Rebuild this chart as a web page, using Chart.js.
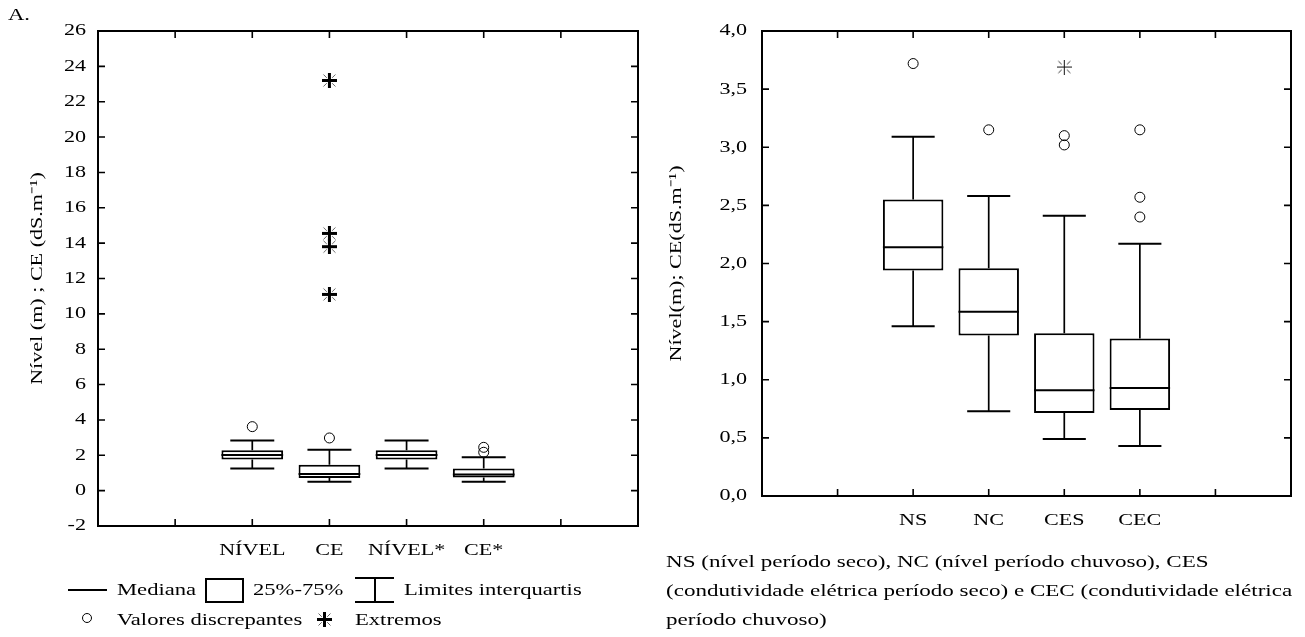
<!DOCTYPE html>
<html>
<head>
<meta charset="utf-8">
<script src="https://cdn.jsdelivr.net/npm/chart.js@4/dist/chart.umd.min.js"></script>
<style>
html,body{margin:0;padding:0;background:#fff;}
body{width:1305px;height:637px;position:relative;overflow:hidden;font-family:"Liberation Serif","Times New Roman",serif;color:#000;}
#wl{position:absolute;left:0;top:0;width:652px;height:637px;}
#wr{position:absolute;left:652px;top:0;width:653px;height:637px;}
.t{position:absolute;white-space:nowrap;font-size:17px;line-height:20px;transform-origin:0 50%;transform:scaleX(1.33);}
.c{transform:scaleX(1.355);}
.s{position:absolute;box-sizing:border-box;}
</style>
</head>
<body>
<div id="wl"><canvas id="cl"></canvas></div>
<div id="wr"><canvas id="cr"></canvas></div>

<div class="t" style="left:8px;top:5px;">A.</div>

<!-- left legend -->
<div class="s" style="left:68px;top:589px;width:39px;height:2px;background:#000;"></div>
<div class="t" style="left:117px;top:580px;">Mediana</div>
<div class="s" style="left:205px;top:578px;width:39px;height:25px;border:2px solid #000;"></div>
<div class="t" style="left:253px;top:580px;">25%-75%</div>
<div class="s" style="left:355px;top:577px;width:39px;height:2px;background:#000;"></div>
<div class="s" style="left:373.5px;top:578px;width:2px;height:24px;background:#000;"></div>
<div class="s" style="left:355px;top:601px;width:39px;height:2px;background:#000;"></div>
<div class="t" style="left:404px;top:580px;">Limites interquartis</div>
<div class="s" style="left:82px;top:613px;width:10px;height:10px;border:1px solid #000;border-radius:50%;"></div>
<div class="t" style="left:117px;top:610px;">Valores discrepantes</div>
<canvas id="legAst" class="s" width="15" height="15" style="left:317px;top:612px;"></canvas>
<div class="t" style="left:355px;top:610px;">Extremos</div>

<!-- right caption -->
<div class="t c" style="left:666px;top:552px;">NS (nível período seco), NC (nível período chuvoso), CES</div>
<div class="t c" style="left:666px;top:581px;">(condutividade elétrica período seco) e CEC (condutividade elétrica</div>
<div class="t c" style="left:666px;top:610px;">período chuvoso)</div>

<script>
// ---------------- DATA ----------------
const leftCategories = ['NÍVEL', 'CE', 'NÍVEL*', 'CE*'];
const leftMin    = [1.25, 0.51, 1.25, 0.51];
const leftQ1     = [1.76, 0.72, 1.76, 0.75];
const leftMedian = [2.02, 0.94, 2.02, 0.91];
const leftQ3     = [2.28, 1.47, 2.28, 1.25];
const leftMax    = [2.83, 2.32, 2.83, 1.89];
const leftOutlierCats   = ['NÍVEL', 'CE', 'CE*', 'CE*'];
const leftOutlierValues = [3.62, 2.98, 2.45, 2.17];
const leftExtremeCats   = ['CE', 'CE', 'CE', 'CE'];
const leftExtremeValues = [23.2, 14.55, 13.8, 11.1];
const leftYTicks = {min: -2, max: 26, step: 2};

const rightCategories = ['NS', 'NC', 'CES', 'CEC'];
const rightMin    = [1.46, 0.73, 0.49, 0.43];
const rightQ1     = [1.94, 1.38, 0.715, 0.74];
const rightMedian = [2.14, 1.585, 0.91, 0.93];
const rightQ3     = [2.55, 1.96, 1.40, 1.355];
const rightMax    = [3.09, 2.58, 2.41, 2.17];
const rightOutlierCats   = ['NS', 'NC', 'CES', 'CES', 'CEC', 'CEC', 'CEC'];
const rightOutlierValues = [3.72, 3.15, 3.10, 3.02, 3.15, 2.57, 2.40];
const rightExtremeCats   = ['CES'];
const rightExtremeValues = [3.69];
const rightYTicks = {min: 0, max: 4, step: 0.5};

// ---------------- STYLE / DRAWING ----------------
Chart.defaults.font.family = '"Liberation Serif", "Times New Roman", serif';
Chart.defaults.font.size = 17;
Chart.defaults.color = '#000';
Chart.defaults.animation = false;

const TEXT_STRETCH = 1.3;

function makeAsterisk(canvas, size, plusW, plusColor, diagW, diagColor) {
  const c = canvas || document.createElement('canvas');
  c.width = size; c.height = size;
  const g = c.getContext('2d');
  const h = size / 2, d = size * 0.22;
  g.lineCap = 'butt';
  g.strokeStyle = diagColor; g.lineWidth = diagW;
  [[0,0,1,1],[size,0,-1,1],[0,size,1,-1],[size,size,-1,-1]].forEach(([x,y,sx,sy]) => {
    g.beginPath(); g.moveTo(x + sx * 1.5, y + sy * 1.5); g.lineTo(x + sx * (1.5 + d), y + sy * (1.5 + d)); g.stroke();
  });
  g.strokeStyle = plusColor; g.lineWidth = plusW;
  g.beginPath(); g.moveTo(h, 0); g.lineTo(h, size); g.moveTo(0, h); g.lineTo(size, h); g.stroke();
  return c;
}
const boldAsterisk = makeAsterisk(null, 15, 3, '#000', 1, '#666');
const thinAsterisk = makeAsterisk(null, 15, 1, '#111', 1, '#333');
makeAsterisk(document.getElementById('legAst'), 15, 3, '#000', 1, '#666');

function buildChart(canvasId, d) {
  const labels = ['', '', ...d.categories, '', ''];
  const boxData = d.categories.map((c, i) => ({x: c, y: [d.q1[i], d.q3[i]]}));
  const outData = d.outCats.map((c, i) => ({x: c, y: d.outVals[i]}));
  const extData = d.extCats.map((c, i) => ({x: c, y: d.extVals[i]}));

  // horizontally widened text, as in the reference figure
  const stretchPlugin = {
    id: 'stretch',
    afterInit(chart) {
      const ctx = chart.ctx;
      if (ctx.__stretched) return;
      const orig = ctx.fillText;
      ctx.fillText = function (text, x, y, maxWidth) {
        this.save();
        this.translate(x, y);
        this.scale(TEXT_STRETCH, 1);
        if (maxWidth === undefined || maxWidth === null) orig.call(this, text, 0, 0);
        else orig.call(this, text, 0, 0, maxWidth / TEXT_STRETCH);
        this.restore();
      };
      ctx.__stretched = true;
    }
  };
  const boxPlugin = {
    id: 'boxparts',
    beforeDatasetsDraw(chart) {
      const {ctx, scales: {x, y}} = chart;
      const step = x.getPixelForTick(1) - x.getPixelForTick(0);
      const cap = step * 0.57 / 2;
      const meta = chart.getDatasetMeta(0);
      ctx.save();
      ctx.strokeStyle = '#000';
      d.categories.forEach((c, i) => {
        const px = meta.data[i].x;
        const yq1 = y.getPixelForValue(d.q1[i]), yq3 = y.getPixelForValue(d.q3[i]);
        const ymin = y.getPixelForValue(d.min[i]), ymax = y.getPixelForValue(d.max[i]);
        ctx.lineWidth = 1.7;
        ctx.beginPath();
        ctx.moveTo(px, yq3); ctx.lineTo(px, ymax);
        ctx.moveTo(px, yq1); ctx.lineTo(px, ymin);
        ctx.stroke();
        ctx.lineWidth = 2;
        ctx.beginPath();
        ctx.moveTo(px - cap, ymax); ctx.lineTo(px + cap, ymax);
        ctx.moveTo(px - cap, ymin); ctx.lineTo(px + cap, ymin);
        ctx.stroke();
      });
      ctx.restore();
    },
    afterDatasetDraw(chart, args) {
      if (args.index !== 0) return;
      const {ctx, scales: {y}} = chart;
      const meta = chart.getDatasetMeta(0);
      ctx.save();
      ctx.strokeStyle = '#000';
      ctx.lineWidth = 2;
      d.categories.forEach((c, i) => {
        const bar = meta.data[i];
        const ym = y.getPixelForValue(d.median[i]);
        ctx.beginPath();
        ctx.moveTo(bar.x - bar.width / 2, ym); ctx.lineTo(bar.x + bar.width / 2, ym);
        ctx.stroke();
      });
      ctx.restore();
    }
  };
  const framePlugin = {
    id: 'frame',
    afterDraw(chart) {
      const {ctx, chartArea: a, scales: {x, y}} = chart;
      ctx.save();
      ctx.strokeStyle = '#000';
      ctx.lineWidth = 1.6;
      const tl = 7;
      ctx.beginPath();
      for (let i = 1; i < labels.length - 1; i++) {
        const px = x.getPixelForTick(i);
        ctx.moveTo(px, a.bottom); ctx.lineTo(px, a.bottom - tl);
        ctx.moveTo(px, a.top); ctx.lineTo(px, a.top + tl);
      }
      y.ticks.forEach((t, i) => {
        if (i === 0 || i === y.ticks.length - 1) return;
        const py = y.getPixelForValue(t.value);
        ctx.moveTo(a.left, py); ctx.lineTo(a.left + tl, py);
        ctx.moveTo(a.right, py); ctx.lineTo(a.right - tl, py);
      });
      ctx.stroke();
      ctx.lineWidth = 2;
      ctx.strokeRect(a.left, a.top, a.right - a.left, a.bottom - a.top);
      ctx.restore();
    }
  };

  return new Chart(document.getElementById(canvasId), {
    type: 'bar',
    data: {
      labels,
      datasets: [
        {
          type: 'bar', data: boxData,
          backgroundColor: '#fff', borderColor: '#000', borderWidth: 2,
          borderSkipped: false, barPercentage: 0.8, categoryPercentage: 1
        },
        {
          type: 'line', data: outData, showLine: false,
          pointStyle: 'circle', pointRadius: 5, pointBorderWidth: 1,
          pointBorderColor: '#000', pointBackgroundColor: 'rgba(0,0,0,0)'
        },
        {
          type: 'line', data: extData, showLine: false,
          pointStyle: d.asterisk, pointRadius: 7
        }
      ]
    },
    options: {
      responsive: true, maintainAspectRatio: false,
      layout: {padding: d.pad},
      plugins: {legend: {display: false}, tooltip: {enabled: false}},
      scales: {
        x: {
          type: 'category', offset: false,
          grid: {display: false, drawTicks: false}, border: {display: false},
          ticks: {autoSkip: false, maxRotation: 0, minRotation: 0, padding: 14},
          afterFit(s) { s.height = 40; }
        },
        y: {
          min: d.yTicks.min, max: d.yTicks.max,
          grid: {display: false, drawTicks: false}, border: {display: false},
          ticks: {stepSize: d.yTicks.step, padding: d.tickPad, callback: d.fmt},
          title: {display: true, text: d.title, font: {size: 17}, padding: {top: d.titlePad, bottom: 0}},
          afterFit(s) { s.width = d.yWidth; }
        }
      }
    },
    plugins: [stretchPlugin, boxPlugin, framePlugin]
  });
}

buildChart('cl', {
  categories: leftCategories, min: leftMin, q1: leftQ1, median: leftMedian, q3: leftQ3, max: leftMax,
  outCats: leftOutlierCats, outVals: leftOutlierValues,
  extCats: leftExtremeCats, extVals: leftExtremeValues,
  yTicks: leftYTicks, fmt: v => String(v),
  pad: {left: 0, top: 31, right: 13, bottom: 71},
  yWidth: 98, tickPad: 12, title: 'Nível (m) ; CE (dS.m⁻¹)', titlePad: 27,
  asterisk: boldAsterisk
});
buildChart('cr', {
  categories: rightCategories, min: rightMin, q1: rightQ1, median: rightMedian, q3: rightQ3, max: rightMax,
  outCats: rightOutlierCats, outVals: rightOutlierValues,
  extCats: rightExtremeCats, extVals: rightExtremeValues,
  yTicks: rightYTicks, fmt: v => v.toFixed(1).replace('.', ','),
  pad: {left: 0, top: 31, right: 9, bottom: 101},
  yWidth: 110, tickPad: 15, title: 'Nível(m); CE(dS.m⁻¹)', titlePad: 14,
  asterisk: thinAsterisk
});
</script>
</body>
</html>
